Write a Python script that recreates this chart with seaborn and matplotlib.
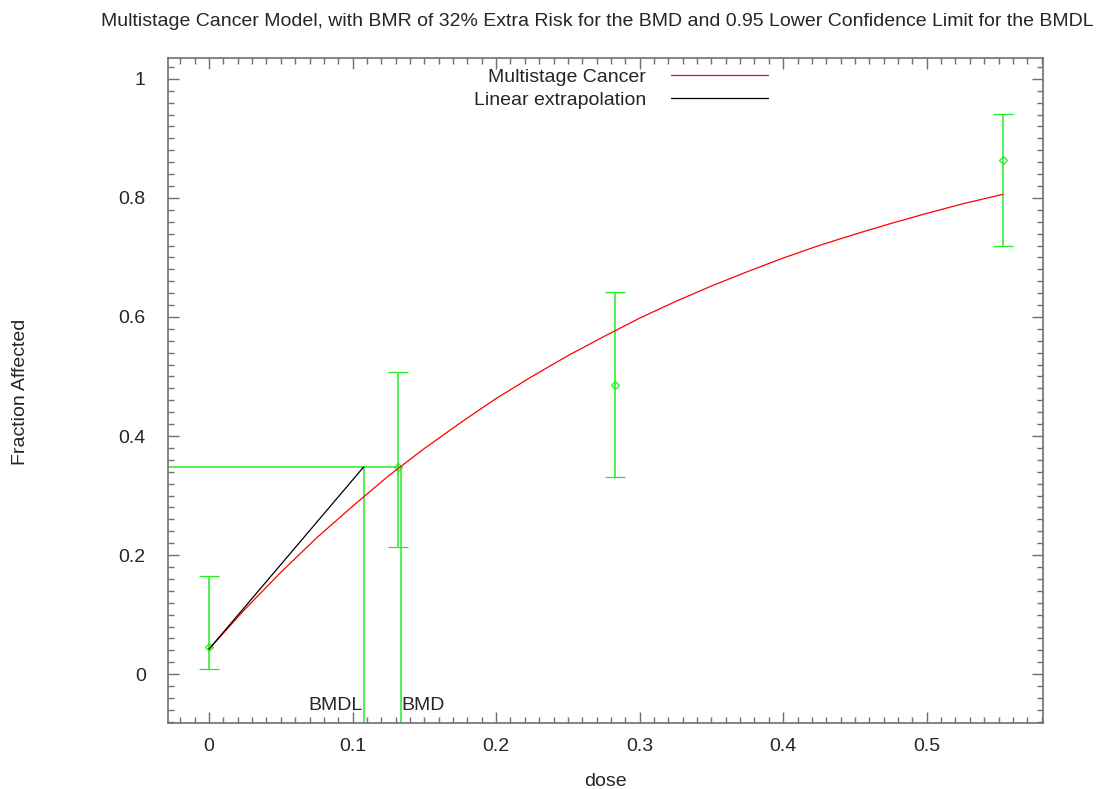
import matplotlib
matplotlib.use("Agg")
import matplotlib.pyplot as plt
import seaborn as sns
import numpy as np
import pandas as pd
from matplotlib.ticker import MultipleLocator, FormatStrFormatter

# ---- data ----
dose = [0.0, 0.1316, 0.283, 0.553]
frac = [0.045, 0.348, 0.486, 0.864]
lower = [0.008, 0.213, 0.331, 0.719]
upper = [0.165, 0.508, 0.642, 0.941]

curve_dose = [0.0, 0.025, 0.05, 0.075, 0.1, 0.125, 0.15, 0.175, 0.2, 0.225,
              0.25, 0.275, 0.3, 0.325, 0.35, 0.375, 0.4, 0.425, 0.45, 0.475,
              0.5, 0.525, 0.553]
curve_frac = [0.042, 0.109, 0.171, 0.229, 0.282, 0.333, 0.379, 0.422, 0.463, 0.500,
              0.535, 0.567, 0.598, 0.626, 0.652, 0.676, 0.699, 0.720, 0.739, 0.757,
              0.774, 0.790, 0.806]

bmd = 0.1334
bmdl = 0.1077
bmr_level = 0.348
lin_dose = [0.0, bmdl]
lin_frac = [0.042, bmr_level]

title = "Multistage Cancer Model, with BMR of 32% Extra Risk for the BMD and 0.95 Lower Confidence Limit for the BMDL"

sns.set_style("white")
plt.rcParams['font.family'] = ['Liberation Sans', 'DejaVu Sans']
FS = 14

fig = plt.figure(figsize=(11, 7.89), dpi=100)
ax = fig.add_axes([0.1527, 0.0837, 0.7955, 0.8428])

xmin, xmax = -0.0286, 0.581
ymin, ymax = -0.082, 1.035

green = '#22ee22'

# BMD / BMDL guide lines
ax.hlines(bmr_level, xmin, bmd, color=green, lw=1.1, zorder=2)
ax.vlines([bmdl, bmd], ymin, bmr_level, color=green, lw=1.1, zorder=2)

# data with error bars
ax.errorbar(dose, frac,
            yerr=[np.array(frac) - np.array(lower), np.array(upper) - np.array(frac)],
            fmt='D', mfc='none', mec=green, ms=4, mew=0.9,
            ecolor=green, elinewidth=1.1, capsize=7.5, capthick=1.1, zorder=3)

curve_df = pd.DataFrame({"dose": curve_dose, "frac": curve_frac})
lin_df = pd.DataFrame({"dose": lin_dose, "frac": lin_frac})
sns.lineplot(data=curve_df, x="dose", y="frac", ax=ax, color='red', lw=0.9,
             label="Multistage Cancer", zorder=4, sort=False)
sns.lineplot(data=lin_df, x="dose", y="frac", ax=ax, color='black', lw=0.9,
             label="Linear extrapolation", zorder=4, sort=False)

ax.text(bmdl - 0.001, -0.052, "BMDL", ha='right', va='center', fontsize=FS)
ax.text(bmd + 0.0005, -0.052, "BMD", ha='left', va='center', fontsize=FS)

ax.set_xlim(xmin, xmax)
ax.set_ylim(ymin, ymax)
ax.xaxis.set_major_locator(MultipleLocator(0.1))
ax.xaxis.set_minor_locator(MultipleLocator(0.01))
ax.yaxis.set_major_locator(MultipleLocator(0.2))
ax.yaxis.set_minor_locator(MultipleLocator(0.02))
ax.xaxis.set_major_formatter(FormatStrFormatter('%g'))
ax.yaxis.set_major_formatter(FormatStrFormatter('%g'))

spine_c = '#707070'
for s in ax.spines.values():
    s.set_visible(True)
    s.set_color(spine_c)
    s.set_linewidth(1.2)
ax.tick_params(which='both', direction='in', top=True, right=True,
               bottom=True, left=True, color=spine_c, width=1.0)
ax.tick_params(which='major', length=8)
ax.tick_params(which='minor', length=4)
ax.tick_params(axis='x', which='major', pad=11, labelsize=FS)
ax.tick_params(axis='y', which='major', pad=16, labelsize=FS)
ax.set_xlabel("")
ax.set_ylabel("")

leg = ax.legend(loc='upper right', bbox_to_anchor=(0.686, 0.985), frameon=False,
                markerfirst=False, handlelength=5.0, handletextpad=1.3,
                labelspacing=0.3, fontsize=FS, borderpad=0, borderaxespad=0)

fig.text(0.5432, 1 - 22 / 789, title, ha='center', va='center', fontsize=FS)
fig.text(21 / 1100, 1 - 392 / 789, "Fraction Affected", rotation=90,
         ha='center', va='center', fontsize=FS)
fig.text(605 / 1100, 1 - 781 / 789, "dose", ha='center', va='center', fontsize=FS)

fig.savefig("out.png", dpi=100)
